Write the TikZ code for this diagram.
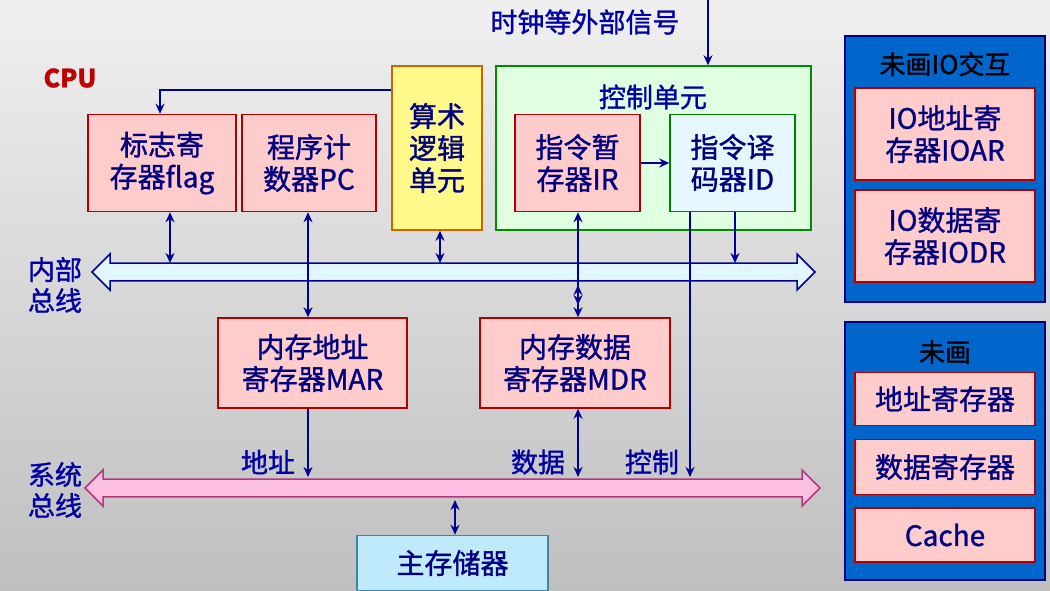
\documentclass[tikz,border=0pt]{standalone}
\usepackage{fontspec}
\setmainfont{Noto Sans CJK SC}[FakeBold=1.2]
\usetikzlibrary{arrows.meta,shapes.arrows}
\begin{document}
\begin{tikzpicture}[x=1pt,y=-1pt,
  txt/.style={font=\fontsize{28}{32}\selectfont,align=center,text=blue!50!black},
  reg/.style={draw=red!70!black,line width=1.5pt,fill=red!20,txt},
  ln/.style={draw=blue!60!black,line width=2.6pt},
  ar/.style={ln,-{Stealth[length=10pt,width=9pt]}},
  dar/.style={ln,{Stealth[length=10pt,width=9pt]}-{Stealth[length=10pt,width=9pt]}},
  lab/.style={font=\fontsize{27}{31}\selectfont,text=blue!65!black,align=center}]
\shade[top color=gray!12,bottom color=gray!50] (0,0) rectangle (1050,590);
\useasboundingbox (0,0) rectangle (1050,590);
% text labels
\node[lab] (clk) at (585,22) {时钟等外部信号};
\node[font=\fontsize{25}{28}\selectfont\bfseries,text=red!75!black] (cpu) at (70,78) {CPU};
\node[lab] (inb) at (55,285) {内部\\总线};
\node[lab] (sysb) at (55,490) {系统\\总线};
% boxes
\node[reg,minimum width=148,minimum height=97] (flag) at (162,163) {标志寄\\存器flag};
\node[reg,minimum width=134,minimum height=97] (pc) at (309,163) {程序计\\数器PC};
\node[draw=orange!80!black,line width=1.5pt,fill=yellow!45,txt,minimum width=90,minimum height=164] (alu) at (437,148) {算术\\逻辑\\单元};
\node[draw=green!55!black,line width=1.5pt,fill=green!12,minimum width=315,minimum height=164] (cu) at (653.5,148) {};
\node[lab] (cul) at (653,97) {控制单元};
\node[reg,minimum width=125,minimum height=97] (ir) at (577.5,163) {指令暂\\存器IR};
\node[draw=green!50!black,line width=1.5pt,fill=cyan!10,txt,minimum width=125,minimum height=97] (id) at (732.5,163) {指令译\\码器ID};
\node[reg,minimum width=189,minimum height=90] (mar) at (312.5,363) {内存地址\\寄存器MAR};
\node[reg,minimum width=190,minimum height=90] (mdr) at (575,363) {内存数据\\寄存器MDR};
\node[draw=cyan!60!black,line width=1.5pt,fill=cyan!25,txt,minimum width=191,minimum height=55] (mem) at (452.5,563) {主存储器};
% buses
\node[single arrow,double arrow,draw=blue!60!black,line width=1.5pt,fill=cyan!12,minimum height=723,minimum width=36,double arrow head extend=6pt,inner sep=5pt] (ib) at (453.5,272) {};
\node[single arrow,double arrow,draw=magenta!70!black,line width=1.5pt,fill=magenta!25,minimum height=735,minimum width=36,double arrow head extend=6pt,inner sep=5pt] (sb) at (452.5,488) {};
% right panels
\node[draw=blue!50!black,line width=1.5pt,fill=blue!50!cyan!80!black,minimum width=200,minimum height=266] (p1) at (945,169) {};
\node[font=\fontsize{26}{30}\selectfont] (p1t) at (945,64) {未画IO交互};
\node[reg,minimum width=180,minimum height=92] (ioar) at (945,134) {IO地址寄\\存器IOAR};
\node[reg,minimum width=180,minimum height=92] (iodr) at (945,236) {IO数据寄\\存器IODR};
\node[draw=blue!50!black,line width=1.5pt,fill=blue!50!cyan!80!black,minimum width=200,minimum height=258] (p2) at (945,451) {};
\node[font=\fontsize{26}{30}\selectfont] (p2t) at (945,352) {未画};
\node[reg,minimum width=180,minimum height=53] (ar1) at (945,399) {地址寄存器};
\node[reg,minimum width=180,minimum height=55] (dr1) at (945,467) {数据寄存器};
\node[reg,minimum width=180,minimum height=54] (ca) at (945,535) {Cache};
% coordinates
\coordinate (clktop) at (708,0);
\coordinate (alul) at (alu.west |- 0,90);
\coordinate (fl1) at (160,90);
% connectors
\draw[ar] (clktop) -- (clktop |- cu.north);
\draw[ar] (alul) -- (fl1) -- (flag.north -| fl1);
\draw[ar] (ir.east) -- (id.west);
\draw[dar] (flag.south -| 170,0) -- (170,263);
\draw[dar] (alu.south -| 440,0) -- (440,263);
\draw[ar] (id.south -| 735,0) -- (735,263);
\draw[dar] (pc.south -| 308,0) -- (mar.north -| 308,0);
\draw[dar] (ir.south -| 578,0) -- (mdr.north -| 578,0);
\draw[dar] (578,285) -- (578,305);
\draw[ar] (id.south -| 690,0) -- (690,477);
\draw[ar] (mar.south -| 308,0) -- (308,477);
\draw[dar] (mdr.south -| 578,0) -- (578,477);
\draw[dar] (455,500) -- (mem.north -| 455,0);
\node[lab] (adr) at (268,462) {地址};
\node[lab] (dat) at (538,462) {数据};
\node[lab] (ctl) at (652,462) {控制};
\end{tikzpicture}
\end{document}
